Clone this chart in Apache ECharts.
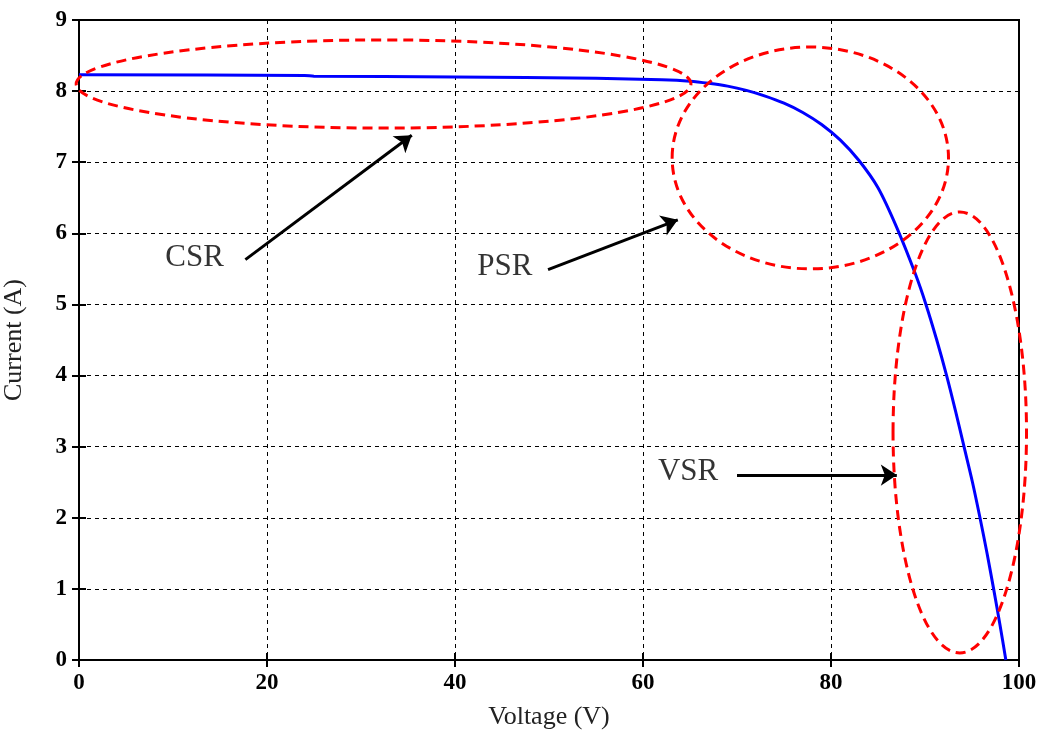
<!DOCTYPE html>
<html>
<head>
<meta charset="utf-8">
<script src="https://cdn.jsdelivr.net/npm/echarts@6/dist/echarts.min.js"></script>
<style>
html, body { margin: 0; padding: 0; background: #fff; }
#main { width: 1051px; height: 736px; }
</style>
</head>
<body>
<div id="main"></div>
<script>
// I-V curve (voltage, current)
var voltage = [0, 24, 25, 40, 55, 62, 65, 67, 69, 71, 73, 75, 77, 79, 81, 83, 85, 87, 89, 90.1, 91.25, 92.3, 93.25, 94.15, 95.05, 95.85, 96.6, 97.3, 97.97, 98.6];
var current = [8.23, 8.22, 8.21, 8.2, 8.18, 8.16, 8.14, 8.11, 8.07, 8.01, 7.93, 7.83, 7.7, 7.53, 7.31, 7.02, 6.64, 6.08, 5.42, 5.0, 4.5, 4.0, 3.5, 3.0, 2.5, 2.0, 1.5, 1.0, 0.5, 0];

// region ellipses: centre and half axes in data units
var regionNames = ['CSR', 'PSR', 'VSR'];
var ellipseCx = [32.4, 77.8, 93.7];
var ellipseCy = [8.1, 7.06, 3.2];
var ellipseRx = [32.7, 14.7, 7.1];
var ellipseRy = [0.62, 1.56, 3.1];

// labels and arrows (tail -> tip)
var labelX = [12.3, 45.3, 64.8];
var labelY = [5.65, 5.53, 2.65];
var arrowFrom = [[17.7, 5.63], [49.9, 5.49], [70.0, 2.6]];
var arrowTo = [[35.4, 7.38], [63.7, 6.19], [87.0, 2.6]];

var chart = echarts.init(document.getElementById('main'));

var tickFont = { fontFamily: 'Liberation Serif', fontWeight: 'bold', fontSize: 23, color: '#000' };

var ellipseData = [];
for (var i = 0; i < ellipseCx.length; i++) {
	ellipseData.push([ellipseCx[i], ellipseCy[i], ellipseRx[i], ellipseRy[i]]);
}
var lineData = [];
for (var i = 0; i < voltage.length; i++) {
	lineData.push([voltage[i], current[i]]);
}
var labelData = [];
for (var i = 0; i < regionNames.length; i++) {
	labelData.push({ name: regionNames[i], value: [labelX[i], labelY[i]] });
}
var arrowData = [];
for (var i = 0; i < arrowFrom.length; i++) {
	arrowData.push({ coords: [arrowFrom[i], arrowTo[i]] });
}

chart.setOption({
	animation: false,
	backgroundColor: '#fff',
	grid: {
		left: 79, top: 20, right: 32, bottom: 76,
		containLabel: false, outerBoundsMode: 'none',
		show: true, borderColor: '#000', borderWidth: 2, backgroundColor: 'transparent'
	},
	xAxis: [{
		type: 'value', min: 0, max: 100, interval: 20,
		name: 'Voltage (V)', nameLocation: 'middle', nameGap: 44,
		nameTextStyle: { fontFamily: 'Liberation Serif', fontSize: 26, color: '#222' },
		axisLine: { show: true, lineStyle: { color: '#000', width: 2 } },
		axisTick: { show: true, inside: true, length: 7, lineStyle: { color: '#000', width: 2 } },
		axisLabel: Object.assign({ margin: 12 }, tickFont),
		splitLine: { show: true, lineStyle: { color: '#000', width: 1, type: [4, 4] } }
	}, {
		type: 'value', min: 0, max: 100, interval: 20, position: 'top',
		axisLine: { show: false },
		axisTick: { show: true, inside: true, length: 7, lineStyle: { color: '#000', width: 2 } },
		axisLabel: { show: false }, splitLine: { show: false }
	}],
	yAxis: [{
		type: 'value', min: 0, max: 9, interval: 1,
		name: 'Current (A)', nameLocation: 'middle', nameGap: 52, nameRotate: 90,
		nameTextStyle: { fontFamily: 'Liberation Serif', fontSize: 26, color: '#222' },
		axisLine: { show: true, lineStyle: { color: '#000', width: 2 } },
		axisTick: { show: true, inside: true, length: 7, lineStyle: { color: '#000', width: 2 } },
		axisLabel: Object.assign({ margin: 12 }, tickFont),
		splitLine: { show: true, lineStyle: { color: '#000', width: 1, type: [4, 4] } }
	}, {
		type: 'value', min: 0, max: 9, interval: 1, position: 'right',
		axisLine: { show: false },
		axisTick: { show: true, inside: true, length: 7, lineStyle: { color: '#000', width: 2 } },
		axisLabel: { show: false }, splitLine: { show: false }
	}],
	series: [
		{
			// I-V curve
			type: 'line',
			data: lineData,
			showSymbol: false,
			smooth: 0.3,
			lineStyle: { color: '#0000ff', width: 3 },
			z: 3
		},
		{
			// operating regions
			type: 'custom',
			data: ellipseData,
			clip: false,
			renderItem: function(params, api) {
				var c = api.coord([api.value(0), api.value(1)]);
				var s = api.size([api.value(2), api.value(3)]);
				return {
					type: 'ellipse',
					shape: { cx: c[0], cy: c[1], rx: s[0], ry: s[1] },
					style: { fill: 'none', stroke: '#ff0000', lineWidth: 3, lineDash: [10, 6] }
				};
			},
			z: 4
		},
		{
			// arrows
			type: 'lines',
			coordinateSystem: 'cartesian2d',
			data: arrowData,
			symbol: ['none', 'arrow'],
			symbolSize: 16,
			lineStyle: { color: '#000', width: 3, opacity: 1, curveness: 0 },
			z: 5
		},
		{
			// region labels
			type: 'scatter',
			data: labelData,
			symbolSize: 0,
			label: {
				show: true, position: 'inside',
				formatter: '{b}',
				fontFamily: 'Liberation Serif', fontSize: 31, color: '#000',
				textBorderWidth: 0
			},
			z: 6
		}
	]
});
</script>
</body>
</html>
